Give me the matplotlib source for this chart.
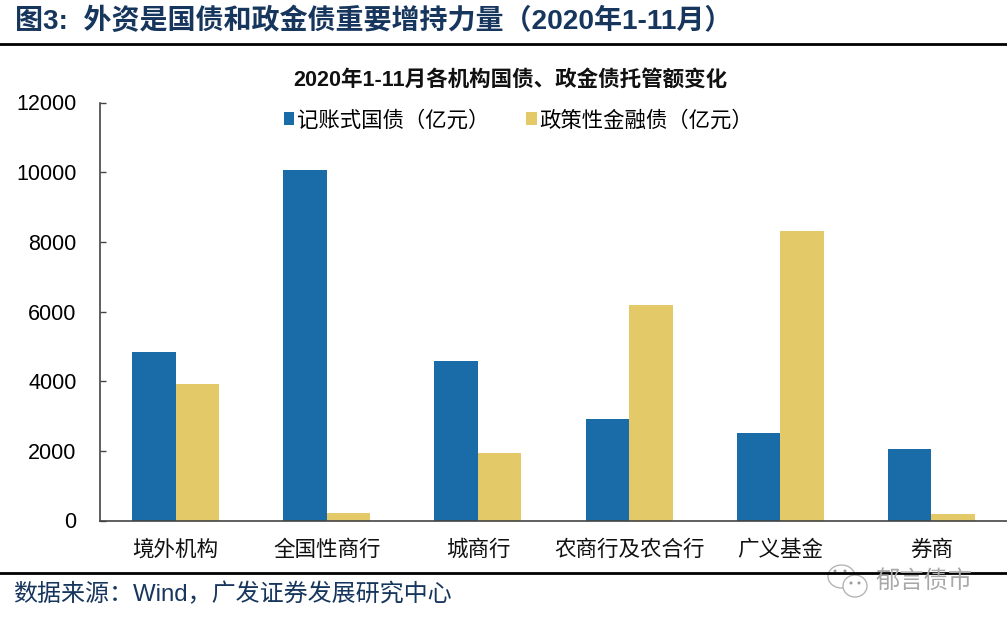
import numpy as np
import matplotlib
matplotlib.use('Agg')
import matplotlib.pyplot as plt
from matplotlib.patches import Ellipse

plt.rcParams['font.family'] = ['Liberation Sans', 'Noto Sans CJK SC']

W, H = 1007, 626

categories = ['境外机构', '全国性商行', '城商行', '农商行及农合行', '广义基金', '券商']
treasury = [4850, 10060, 4590, 2920, 2520, 2060]
policy_bank = [3930, 220, 1950, 6200, 8320, 200]
yticks = [0, 2000, 4000, 6000, 8000, 10000, 12000]


def fx(x):
    return x / W


def fy(y):
    return 1 - y / H


def main():
    fig = plt.figure(figsize=(W / 100, H / 100), dpi=100)
    ax = fig.add_axes([fx(100), fy(520.5), fx(907), (520.5 - 102.5) / H])

    x = np.arange(len(categories))
    width = 0.288
    ax.bar(x - width / 2, treasury, width, color='#196ca8', label='记账式国债（亿元）')
    ax.bar(x + width / 2, policy_bank, width, color='#e3c967', label='政策性金融债（亿元）')

    ax.set_xlim(-0.5, len(categories) - 0.5)
    ax.set_ylim(0, 12000)
    ax.set_yticks(yticks)
    ax.set_xticks(x)
    ax.set_xticklabels(categories, fontsize=15.5, color='#111111')
    ax.tick_params(axis='x', length=0, pad=14)
    ax.tick_params(axis='y', direction='in', length=4, width=1, labelsize=15.5, pad=17, color='#444444')
    ax.spines['top'].set_visible(False)
    ax.spines['right'].set_visible(False)
    for side in ['left', 'bottom']:
        ax.spines[side].set_color('#444444')
        ax.spines[side].set_linewidth(1.2)

    ax.legend(loc='upper left', bbox_to_anchor=(0.2025, 0.983), ncol=2, frameon=False, fontsize=15.4,
              handlelength=0.5, handleheight=0.55, handletextpad=0.1, columnspacing=1.75, borderpad=0, borderaxespad=0)

    # header and footer of the report page
    fig.text(fx(15), fy(21), '图3:  外资是国债和政金债重要增持力量（2020年1-11月）', fontsize=20.2,
             fontweight='bold', color='#17365d', va='center')
    fig.text(fx(510), fy(80), '2020年1-11月各机构国债、政金债托管额变化', fontsize=15.5,
             fontweight='bold', color='#111111', ha='center', va='center')
    fig.text(fx(13), fy(595), '数据来源：Wind，广发证券发展研究中心', fontsize=17.3, color='#17365d', va='center')
    fig.add_artist(plt.Line2D([0, 1], [fy(43.5)] * 2, color='black', lw=2))
    fig.add_artist(plt.Line2D([0, 1], [fy(572.5)] * 2, color='black', lw=2))

    # watermark
    for cx, cy, w, h in [(841.5, 576.5, 27, 23), (855, 586, 24, 22)]:
        fig.add_artist(Ellipse((fx(cx), fy(cy)), w / W, h / H, transform=fig.transFigure,
                               facecolor='white', edgecolor='#b5b5b5', lw=1))
    for cx, cy in [(835, 571), (845, 571), (851, 583), (859, 583)]:
        fig.add_artist(Ellipse((fx(cx), fy(cy)), 3 / W, 3 / H, transform=fig.transFigure,
                               facecolor='#999999', edgecolor='none'))
    fig.text(fx(875), fy(582), '郁言债市', fontsize=17.5, color='#a8a8a8', va='center')

    fig.savefig('out.png', dpi=100)


if __name__ == "__main__":
    main()
